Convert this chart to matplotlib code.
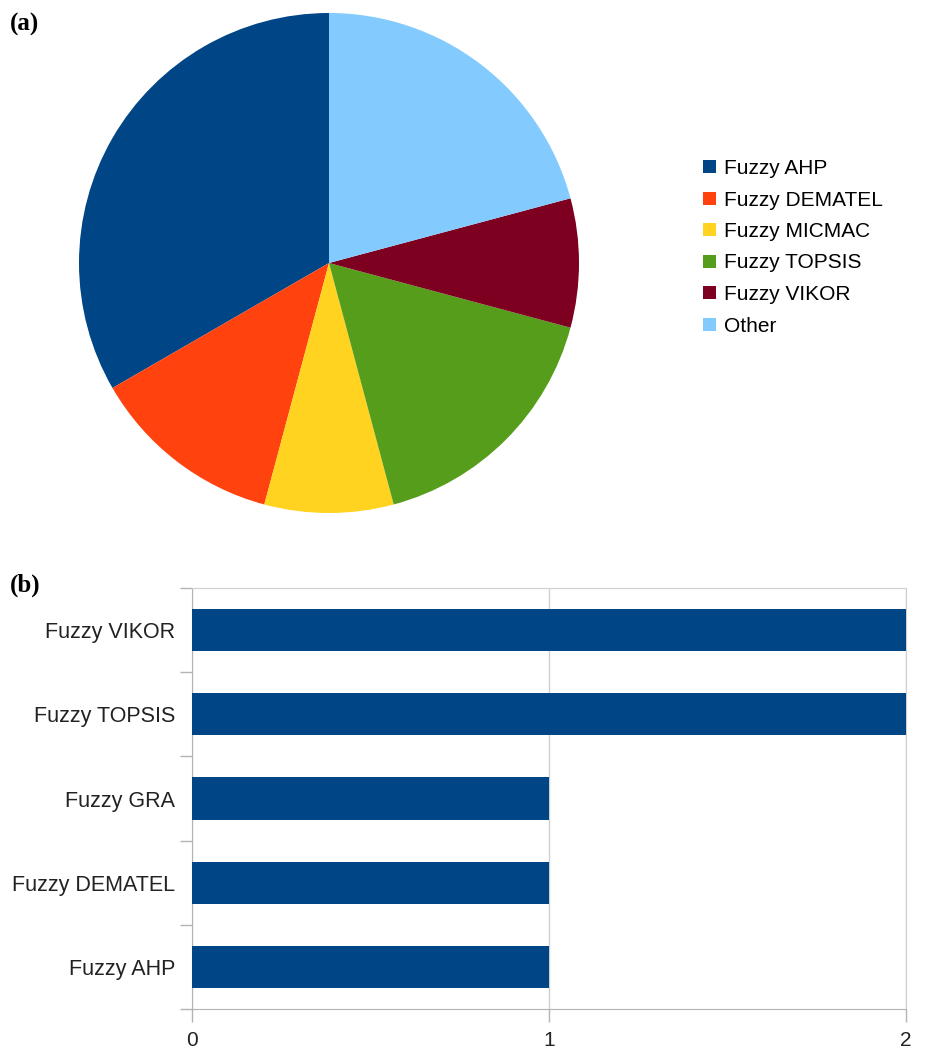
import matplotlib
matplotlib.use("Agg")
import matplotlib.pyplot as plt
from matplotlib.patches import Patch

# Pie data (panel a)
pie_labels = ["Fuzzy AHP", "Fuzzy DEMATEL", "Fuzzy MICMAC", "Fuzzy TOPSIS", "Fuzzy VIKOR", "Other"]
pie_counts = [8, 3, 2, 4, 2, 5]
pie_colors = ["#004586", "#ff420e", "#ffd320", "#579d1c", "#7e0021", "#83caff"]

# Bar data (panel b)
bar_labels = ["Fuzzy AHP", "Fuzzy DEMATEL", "Fuzzy GRA", "Fuzzy TOPSIS", "Fuzzy VIKOR"]
bar_values = [1, 1, 1, 2, 2]
bar_color = "#004586"
x_ticks = [0, 1, 2]

W, H = 931, 1050
fig = plt.figure(figsize=(W / 100, H / 100), dpi=100)
sans = ["Liberation Sans", "DejaVu Sans"]

# ---- Panel (a): pie ----
cx, cy, r = 329, 263, 250
ax1 = fig.add_axes([(cx - r) / W, 1 - (cy + r) / H, 2 * r / W, 2 * r / H])
ax1.pie(pie_counts, colors=pie_colors, startangle=90, counterclock=True,
        wedgeprops=dict(linewidth=0))
ax1.set_xlim(-1, 1)
ax1.set_ylim(-1, 1)
ax1.set_aspect("equal")
ax1.axis("off")

handles = [Patch(facecolor=c, edgecolor="none", label=l) for c, l in zip(pie_colors, pie_labels)]
fig.legend(handles=handles, loc="upper left", bbox_to_anchor=(703 / W, 1 - 159 / H),
           frameon=False, prop=dict(family=sans, size=15),
           handlelength=0.6, handleheight=0.6, handletextpad=0.4,
           labelspacing=0.6, borderpad=0, borderaxespad=0)

fig.text(10 / W, 1 - 24 / H, "(a)", family=["Liberation Serif", "DejaVu Serif"],
         weight="bold", size=18, va="center", ha="left")

# ---- Panel (b): horizontal bars ----
x0, x1, y0, y1 = 192, 906, 588, 1009
ax2 = fig.add_axes([x0 / W, 1 - y1 / H, (x1 - x0) / W, (y1 - y0) / H])
ypos = list(range(len(bar_labels)))
ax2.barh(ypos, bar_values, height=0.5, color=bar_color, zorder=3)
ax2.set_xlim(0, 2)
ax2.set_ylim(-0.5, len(bar_labels) - 0.5)

grid_c = "#d0d0d0"
axis_c = "#b3b3b3"
ax2.set_xticks(x_ticks)
ax2.set_xticklabels([str(t) for t in x_ticks], family=sans, size=15, color="#222222")
ax2.xaxis.grid(True, color=grid_c, linewidth=1, zorder=0)
ax2.tick_params(axis="x", direction="out", length=9, width=1, color=axis_c, pad=7)

ax2.set_yticks([i - 0.5 for i in range(len(bar_labels) + 1)])
ax2.set_yticklabels([])
ax2.tick_params(axis="y", which="major", direction="out", length=9, width=1, color=axis_c)
ax2.set_yticks(ypos, minor=True)
ax2.set_yticklabels(bar_labels, minor=True, family=sans, size=15.5, color="#222222")
ax2.tick_params(axis="y", which="minor", length=0, pad=12)

for s in ["left", "bottom"]:
    ax2.spines[s].set_color(axis_c)
for s in ["top", "right"]:
    ax2.spines[s].set_color(grid_c)

fig.text(10 / W, 1 - 585 / H, "(b)", family=["Liberation Serif", "DejaVu Serif"],
         weight="bold", size=18, va="center", ha="left")

fig.savefig("out.png", dpi=100, facecolor="white")
